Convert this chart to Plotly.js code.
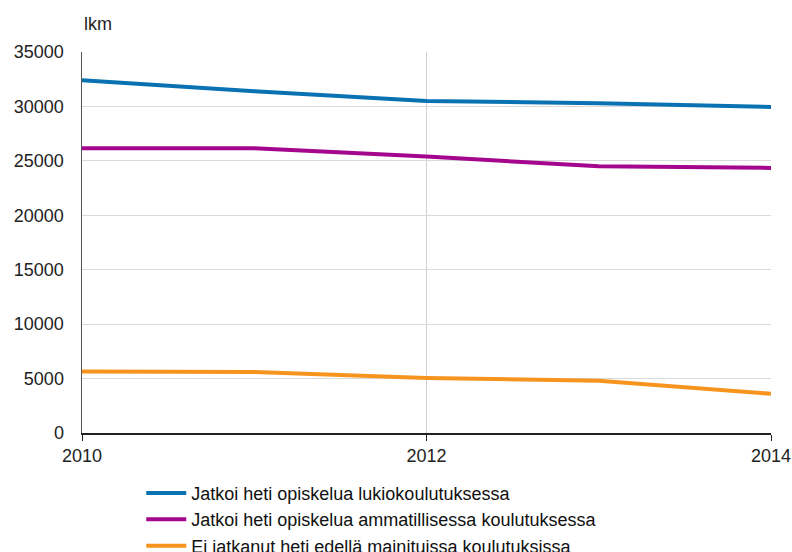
<!DOCTYPE html>
<html><head><meta charset="utf-8">
<script src="https://cdn.plot.ly/plotly-3.0.1.min.js"></script>
<style>body{margin:0;background:#fff}#c{width:792px;height:552px}</style>
</head><body><div id="c"></div>
<script>
const years = [2010, 2011, 2012, 2013, 2014];
const seriesNames = [
  "Jatkoi heti opiskelua lukiokoulutuksessa",
  "Jatkoi heti opiskelua ammatillisessa koulutuksessa",
  "Ei jatkanut heti edellä mainituissa koulutuksissa"
];
const lukio = [32400, 31400, 30500, 30300, 29950];
const ammatillinen = [26150, 26150, 25400, 24500, 24350];
const eiJatkanut = [5650, 5600, 5050, 4800, 3600];
const colors = ["#0a72b3", "#a4068e", "#f7941d"];
const yTicks = [0, 5000, 10000, 15000, 20000, 25000, 30000, 35000];
const xTicks = [2010, 2012, 2014];

const values = [lukio, ammatillinen, eiJatkanut];
const traces = values.map((v, i) => ({
  x: years, y: v, name: seriesNames[i], type: "scatter", mode: "lines",
  line: {color: colors[i], width: 4}
}));

const layout = {
  width: 792, height: 552,
  margin: {l: 82, r: 21, t: 52, b: 119},
  paper_bgcolor: "#fff", plot_bgcolor: "#fff",
  font: {family: "Liberation Sans, Arial, sans-serif", size: 18, color: "#222"},
  showlegend: true,
  legend: {orientation: "v", xref: "paper", yref: "container",
           x: 0.086, xanchor: "left", y: 0.14, yanchor: "top",
           font: {size: 18, color: "#111"}, tracegroupgap: 0, itemwidth: 40},
  xaxis: {
    range: [2010, 2014], tickvals: xTicks, ticktext: xTicks.map(String),
    showgrid: true, gridcolor: "#d0d0d0", gridwidth: 1.5,
    showline: true, linecolor: "#222", linewidth: 1.5,
    ticks: "outside", ticklen: 6, tickcolor: "#222", zeroline: false,
    tickfont: {size: 18, color: "#222"}
  },
  yaxis: {
    range: [0, 35000], tickvals: yTicks, ticktext: yTicks.map(String),
    showgrid: true, gridcolor: "#dadada", gridwidth: 1,
    showline: true, linecolor: "#555", linewidth: 1.5,
    ticks: "", ticklabelstandoff: 13, zeroline: false,
    tickfont: {size: 18, color: "#222"}
  },
  annotations: [{
    text: "lkm", xref: "paper", yref: "paper", x: 0, y: 1, xanchor: "left", yanchor: "bottom",
    yshift: 16, showarrow: false, font: {size: 18, color: "#222"}
  }]
};
Plotly.newPlot("c", traces, layout, {displayModeBar: false, staticPlot: true});
</script></body></html>
